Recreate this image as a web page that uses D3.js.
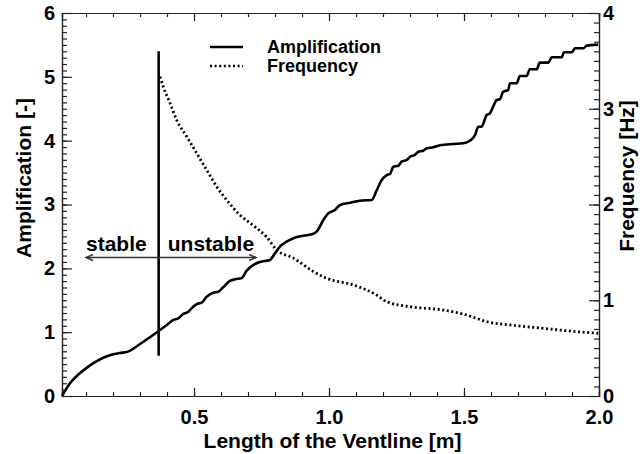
<!DOCTYPE html>
<html>
<head>
<meta charset="utf-8">
<script src="https://cdn.jsdelivr.net/npm/d3@7"></script>
<style>
  body { margin: 0; background: #fff; }
  svg text { font-family: "Liberation Sans", Arial, Helvetica, sans-serif; font-weight: bold; fill: #000; }
</style>
</head>
<body>
<div id="chart"></div>
<script>
// Amplification vs ventline length
const ampLength = [0.011, 0.040, 0.078, 0.110, 0.140, 0.170, 0.201, 0.225, 0.251, 0.300, 0.369, 0.399, 0.423, 0.442, 0.460, 0.479, 0.497, 0.510, 0.528,
  0.547, 0.571, 0.590, 0.608, 0.633, 0.652, 0.677, 0.695, 0.714, 0.744, 0.781, 0.800, 0.818, 0.843, 0.868,
  0.905, 0.936, 0.954, 0.979, 0.997, 1.022, 1.041, 1.078, 1.115, 1.158, 1.177, 1.195, 1.214, 1.226, 1.238,
  1.257, 1.269, 1.288, 1.300, 1.318, 1.331, 1.349, 1.362, 1.386, 1.411, 1.460, 1.497, 1.522, 1.541, 1.553,
  1.565, 1.584, 1.596, 1.608, 1.621, 1.633, 1.645, 1.664, 1.670, 1.695, 1.707, 1.732, 1.744, 1.769, 1.781,
  1.812, 1.825, 1.862, 1.870, 1.899, 1.911, 1.942, 1.954, 1.997]
const ampValue = [0, 0.195, 0.36, 0.465, 0.545, 0.610, 0.655, 0.675, 0.688, 0.815, 1.018, 1.112, 1.191, 1.217, 1.285, 1.321, 1.399, 1.441, 1.462,
  1.556, 1.618, 1.634, 1.703, 1.802, 1.828, 1.849, 1.963, 2.037, 2.099, 2.131, 2.236, 2.339, 2.417, 2.471,
  2.511, 2.533, 2.574, 2.757, 2.862, 2.914, 2.993, 3.028, 3.060, 3.071, 3.227, 3.384, 3.462, 3.478, 3.592,
  3.608, 3.671, 3.697, 3.749, 3.776, 3.827, 3.843, 3.880, 3.896, 3.928, 3.948, 3.959, 4.000, 4.089, 4.219,
  4.219, 4.402, 4.429, 4.532, 4.637, 4.648, 4.767, 4.794, 4.899, 4.899, 5.013, 5.013, 5.118, 5.118, 5.222,
  5.222, 5.306, 5.306, 5.385, 5.385, 5.447, 5.447, 5.488, 5.504]

// Frequency vs ventline length
const freqLength = [0.374, 0.386, 0.411, 0.436, 0.473, 0.510, 0.547, 0.584, 0.621, 0.670, 0.720, 0.769, 0.806, 0.868,
  0.942, 0.991, 1.090, 1.176, 1.213, 1.300, 1.423, 1.510, 1.584, 1.670, 1.794, 1.917, 1.997]
const freqValue = [3.335, 3.23, 3.06, 2.88, 2.71, 2.535, 2.36, 2.186, 2.047, 1.89, 1.78, 1.66, 1.525, 1.44,
  1.30, 1.23, 1.16, 1.055, 0.985, 0.933, 0.898, 0.846, 0.776, 0.742, 0.707, 0.672, 0.655]

const xTicks = [0.5, 1.0, 1.5, 2.0]
const ampTicks = [0, 1, 2, 3, 4, 5, 6]
const freqTicks = [0, 1, 2, 3, 4]

// stability limit and arrow
const limitLength = 0.369
const limitAmp = [0.63, 5.40]
const arrowLength = [0.10, 0.73]
const arrowAmp = 2.17

const seriesNames = ["Amplification", "Frequency"]

const W = 640, H = 454
const margin = {top: 13, right: 41, bottom: 58, left: 62},
    width = W - margin.left - margin.right,
    height = H - margin.top - margin.bottom

const svg = d3.select('#chart').append('svg')
    .attr('width', W).attr('height', H)

const g = svg.append('g')
    .attr('transform', 'translate(' + margin.left + ',' + margin.top + ')')

const x = d3.scaleLinear().domain([0.011, 2.0]).range([0, width])
const yAmp = d3.scaleLinear().domain([0, 6]).range([height, 0])
const yFreq = d3.scaleLinear().domain([0, 4]).range([height, 0])

const axisColor = '#222'

function styleAxis(sel, fontSize) {
    sel.select('.domain').attr('stroke', axisColor).attr('stroke-width', 1.2)
    sel.selectAll('.tick line').attr('stroke', axisColor).attr('stroke-width', 1.2)
    sel.selectAll('.tick text').attr('font-size', fontSize)
        .attr('font-family', '"Liberation Sans", Arial, sans-serif')
        .attr('font-weight', 'bold').attr('fill', '#000')
}

// minor ticks every 0.1
const xMinor = d3.range(1, 20).map(i => i / 10)
const ampMinor = d3.range(1, 60).map(i => i / 10)
const freqMinor = d3.range(1, 40).map(i => i / 10)

// bottom
g.append('g').attr('transform', 'translate(0,' + height + ')')
    .call(d3.axisBottom(x).tickValues(xMinor).tickSize(-4).tickFormat(''))
    .call(s => styleAxis(s, 0))
g.append('g').attr('transform', 'translate(0,' + height + ')')
    .call(d3.axisBottom(x).tickValues(xTicks).tickSize(-8).tickPadding(14).tickFormat(d3.format('.1f')))
    .call(s => styleAxis(s, 20))
// top
g.append('g')
    .call(d3.axisTop(x).tickValues(xMinor).tickSize(-4).tickFormat(''))
    .call(s => styleAxis(s, 0))
g.append('g')
    .call(d3.axisTop(x).tickValues(xTicks).tickSize(-8).tickFormat(''))
    .call(s => styleAxis(s, 0))
// left
g.append('g')
    .call(d3.axisLeft(yAmp).tickValues(ampMinor).tickSize(-5).tickFormat(''))
    .call(s => styleAxis(s, 0))
g.append('g')
    .call(d3.axisLeft(yAmp).tickValues(ampTicks).tickSize(-10).tickPadding(7).tickFormat(d3.format('d')))
    .call(s => styleAxis(s, 20))
// right
g.append('g').attr('transform', 'translate(' + width + ',0)')
    .call(d3.axisRight(yFreq).tickValues(freqMinor).tickSize(-5).tickFormat(''))
    .call(s => styleAxis(s, 0))
g.append('g').attr('transform', 'translate(' + width + ',0)')
    .call(d3.axisRight(yFreq).tickValues(freqTicks).tickSize(-10).tickPadding(4).tickFormat(d3.format('d')))
    .call(s => styleAxis(s, 20))

// titles
svg.append('text')
    .attr('x', margin.left + width / 2 + 2).attr('y', 448)
    .attr('text-anchor', 'middle').attr('font-size', 21)
    .text('Length of the Ventline [m]')

svg.append('text')
    .attr('transform', 'translate(31,' + 178 + ') rotate(-90)')
    .attr('text-anchor', 'middle').attr('font-size', 21)
    .text('Amplification [-]')

svg.append('text')
    .attr('transform', 'translate(634,' + 176 + ') rotate(-90)')
    .attr('text-anchor', 'middle').attr('font-size', 21)
    .text('Frequency [Hz]')

// curves
const ampData = ampLength.map((l, i) => [l, ampValue[i]])
const freqData = freqLength.map((l, i) => [l, freqValue[i]])

g.append('path')
    .datum(ampData)
    .attr('fill', 'none').attr('stroke', '#000').attr('stroke-width', 2.6)
    .attr('stroke-linejoin', 'round')
    .attr('d', d3.line().curve(d3.curveMonotoneX).x(d => x(d[0])).y(d => yAmp(d[1])))

g.append('path')
    .datum(freqData)
    .attr('fill', 'none').attr('stroke', '#000').attr('stroke-width', 2.8)
    .attr('stroke-dasharray', '2,2.6')
    .attr('d', d3.line().curve(d3.curveMonotoneX).x(d => x(d[0])).y(d => yFreq(d[1])))

// stability limit
g.append('line')
    .attr('x1', x(limitLength)).attr('x2', x(limitLength))
    .attr('y1', yAmp(limitAmp[0])).attr('y2', yAmp(limitAmp[1]))
    .attr('stroke', '#000').attr('stroke-width', 2.6)

// double arrow
const ay = yAmp(arrowAmp), ax0 = x(arrowLength[0]), ax1 = x(arrowLength[1])
const arrowColor = '#333'
g.append('line').attr('x1', ax0).attr('x2', ax1).attr('y1', ay).attr('y2', ay)
    .attr('stroke', arrowColor).attr('stroke-width', 1.6)
g.append('path')
    .attr('d', `M${ax0 + 7},${ay - 3}L${ax0},${ay}L${ax0 + 7},${ay + 3}`)
    .attr('fill', 'none').attr('stroke', arrowColor).attr('stroke-width', 1.4)
g.append('path')
    .attr('d', `M${ax1 - 7},${ay - 3}L${ax1},${ay}L${ax1 - 7},${ay + 3}`)
    .attr('fill', 'none').attr('stroke', arrowColor).attr('stroke-width', 1.4)

g.append('text').attr('x', ax0).attr('y', ay - 6).attr('font-size', 21).text('stable')
g.append('text').attr('x', ax1 - 2).attr('y', ay - 6).attr('text-anchor', 'end').attr('font-size', 21).text('unstable')

// legend
const legend = svg.append('g').attr('transform', 'translate(210,47)')
seriesNames.forEach((name, i) => {
    const row = legend.append('g').attr('transform', 'translate(0,' + (i * 19) + ')')
    row.append('line').attr('x1', 0).attr('x2', 33).attr('y1', 0).attr('y2', 0)
        .attr('stroke', '#000')
        .attr('stroke-width', 2.6)
        .attr('stroke-dasharray', i === 0 ? null : '2,2.6')
    row.append('text').attr('x', 57).attr('y', 6).attr('font-size', 18).text(name)
})
</script>
</body>
</html>
